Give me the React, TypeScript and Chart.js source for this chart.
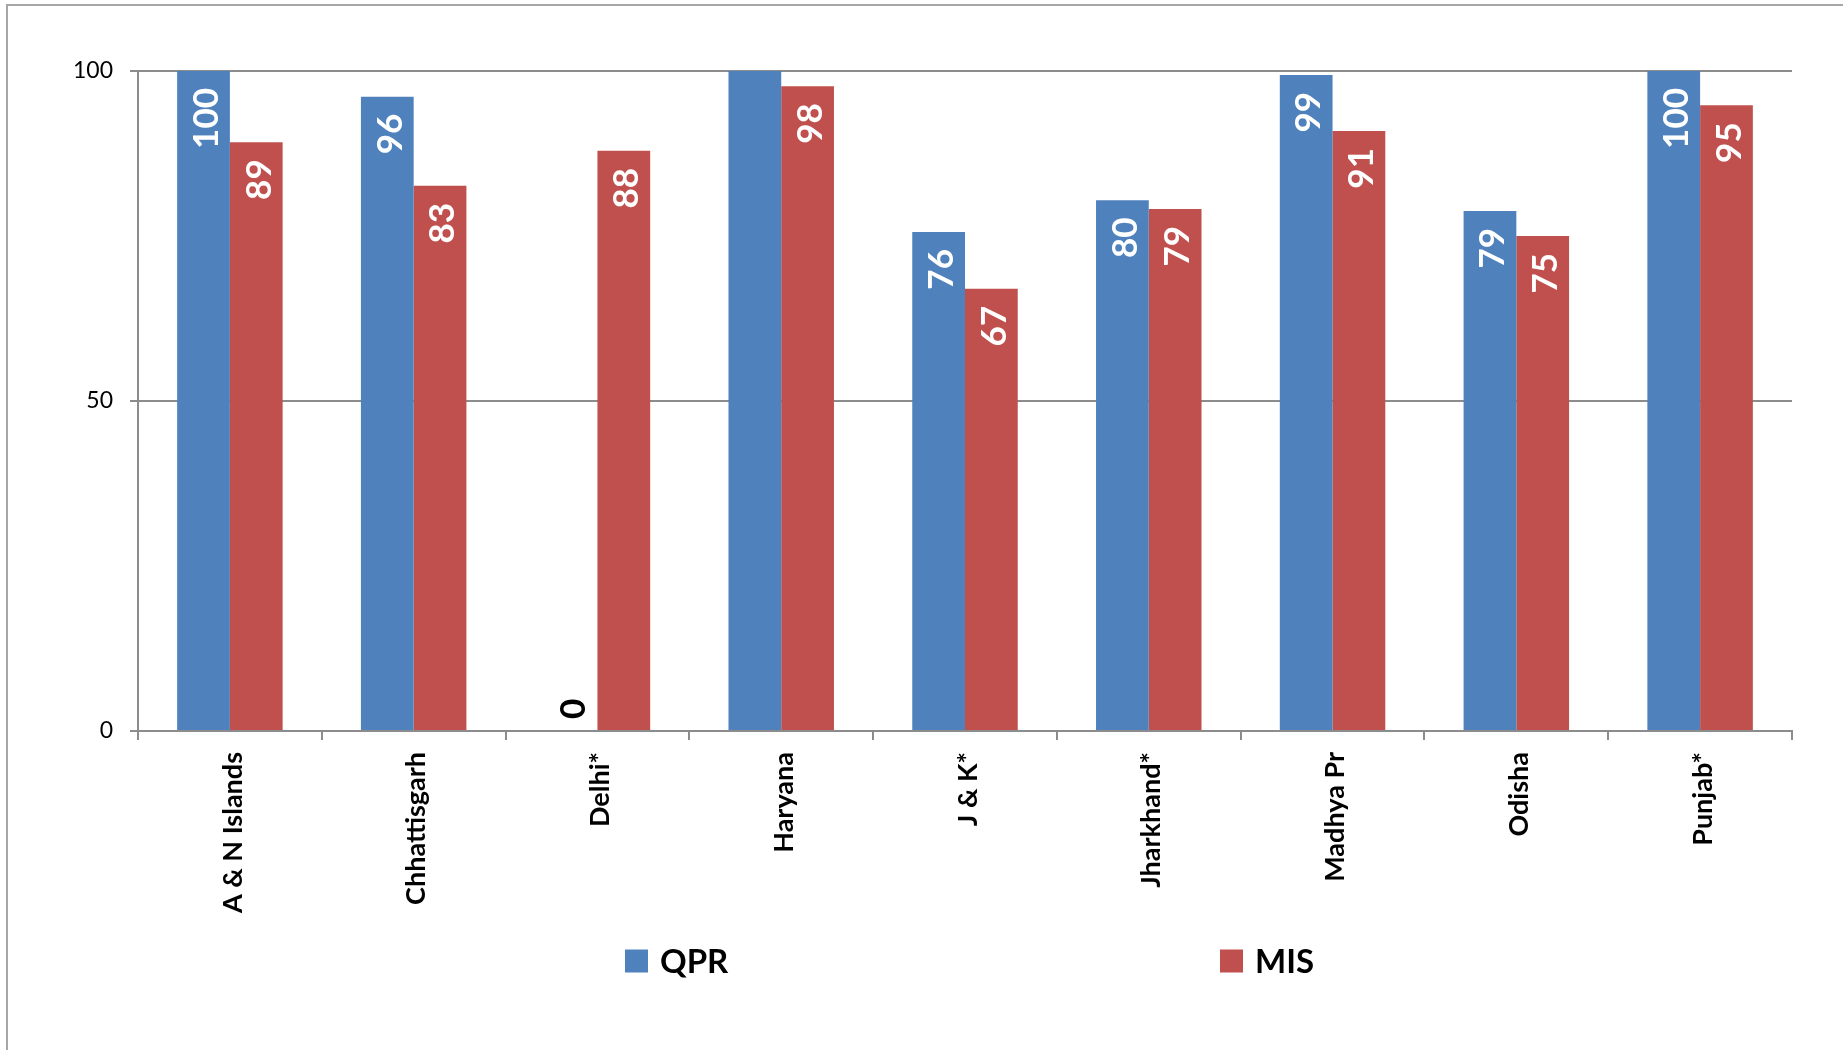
import React, { useEffect, useRef } from "react";
import { Chart, registerables } from "chart.js";

Chart.register(...registerables);

const categories = [
  "A & N Islands",
  "Chhattisgarh",
  "Delhi*",
  "Haryana",
  "J & K*",
  "Jharkhand*",
  "Madhya Pr",
  "Odisha",
  "Punjab*",
];
const seriesNames = ["QPR", "MIS"];
const qprValues = [100, 96.1, 0, 100, 75.6, 80.4, 99.4, 78.8, 100];
const misValues = [89.2, 82.6, 87.9, 97.7, 67.0, 79.1, 90.9, 75.0, 94.8];
const qprLabels = ["100", "96", "0", "", "76", "80", "99", "79", "100"];
const misLabels = ["89", "83", "88", "98", "67", "79", "91", "75", "95"];
const yTickValues = [0, 50, 100];

const BLUE = "#4F81BD";
const RED = "#C0504D";
const AXIS = "#8c8c8c";
const FONT = "Lato, 'Open Sans', sans-serif";

const barLabelPlugin = {
  id: "barLabels",
  afterDatasetsDraw(chart: any) {
    const ctx = chart.ctx;
    const y0 = chart.scales.y.getPixelForValue(0);
    chart.data.datasets.forEach((ds: any, di: number) => {
      const meta = chart.getDatasetMeta(di);
      const texts: string[] = ds.labelTexts || [];
      meta.data.forEach((bar: any, i: number) => {
        const text = texts[i];
        if (!text) return;
        const v = ds.data[i];
        ctx.save();
        ctx.font = `bold 35px ${FONT}`;
        ctx.textBaseline = "middle";
        if (v > 0) {
          ctx.translate(bar.x + 3, bar.y + 17);
          ctx.rotate(-Math.PI / 2);
          ctx.textAlign = "right";
          ctx.fillStyle = "#ffffff";
        } else {
          ctx.translate(bar.x + 3, y0 - 12);
          ctx.rotate(-Math.PI / 2);
          ctx.textAlign = "left";
          ctx.fillStyle = "#000000";
        }
        ctx.fillText(text, 0, 0);
        ctx.restore();
      });
    });
  },
};

const frameLegendPlugin = {
  id: "frameLegend",
  afterDraw(chart: any) {
    const ctx = chart.ctx;
    ctx.save();
    // outer frame (left and top edges visible)
    ctx.strokeStyle = "#a6a6a6";
    ctx.lineWidth = 2;
    ctx.beginPath();
    ctx.moveTo(7, chart.height);
    ctx.lineTo(7, 5);
    ctx.lineTo(chart.width, 5);
    ctx.stroke();

    // legend
    const legendY = 961;
    const itemX = [625, 1220];
    chart.data.datasets.forEach((ds: any, i: number) => {
      const x = itemX[i];
      ctx.fillStyle = ds.backgroundColor;
      ctx.fillRect(x, legendY - 11.5, 23, 23);
      ctx.fillStyle = "#000";
      ctx.font = `bold 33px ${FONT}`;
      ctx.textAlign = "left";
      ctx.textBaseline = "middle";
      ctx.fillText(ds.label, x + 35, legendY + 1);
    });
    ctx.restore();
  },
};

export default function App() {
  const canvasRef = useRef<HTMLCanvasElement | null>(null);

  useEffect(() => {
    if (!canvasRef.current) return;
    const chart = new Chart(canvasRef.current, {
      type: "bar",
      data: {
        labels: categories,
        datasets: [
          {
            label: seriesNames[0],
            data: qprValues,
            backgroundColor: BLUE,
            borderWidth: 0,
            categoryPercentage: 0.574,
            barPercentage: 1.0,
            labelTexts: qprLabels,
          } as any,
          {
            label: seriesNames[1],
            data: misValues,
            backgroundColor: RED,
            borderWidth: 0,
            categoryPercentage: 0.574,
            barPercentage: 1.0,
            labelTexts: misLabels,
          } as any,
        ],
      },
      options: {
        animation: false,
        responsive: false,
        layout: { padding: { left: 0, top: 71, right: 51, bottom: 0 } },
        plugins: {
          legend: { display: false },
          tooltip: { enabled: false },
          title: { display: false },
        },
        scales: {
          x: {
            grid: {
              offset: true,
              drawOnChartArea: false,
              drawTicks: true,
              tickLength: 9,
              color: AXIS,
              lineWidth: 2,
            },
            border: { color: AXIS, width: 2 },
            ticks: {
              autoSkip: false,
              minRotation: 90,
              maxRotation: 90,
              padding: 12,
              labelOffset: 3,
              color: "#000",
              font: { family: FONT, weight: "bold", size: 27 },
            },
            afterFit: (s: any) => {
              s.height = 319;
            },
          },
          y: {
            min: 0,
            max: 100,
            afterBuildTicks: (s: any) => {
              s.ticks = yTickValues.map((v) => ({ value: v }));
            },
            grid: { color: AXIS, lineWidth: 2, tickLength: 8 },
            border: { color: AXIS, width: 2 },
            ticks: {
              padding: 17,
              color: "#000",
              font: { family: FONT, size: 23 },
            },
            afterFit: (s: any) => {
              s.width = 138;
            },
          },
        },
      } as any,
      plugins: [barLabelPlugin, frameLegendPlugin],
    });
    return () => chart.destroy();
  }, []);

  return (
    <div style={{ position: "fixed", left: 0, top: 0, width: 1843, height: 1050, background: "#fff" }}>
      <canvas ref={canvasRef} width={1843} height={1050} style={{ width: 1843, height: 1050, display: "block" }} />
    </div>
  );
}
